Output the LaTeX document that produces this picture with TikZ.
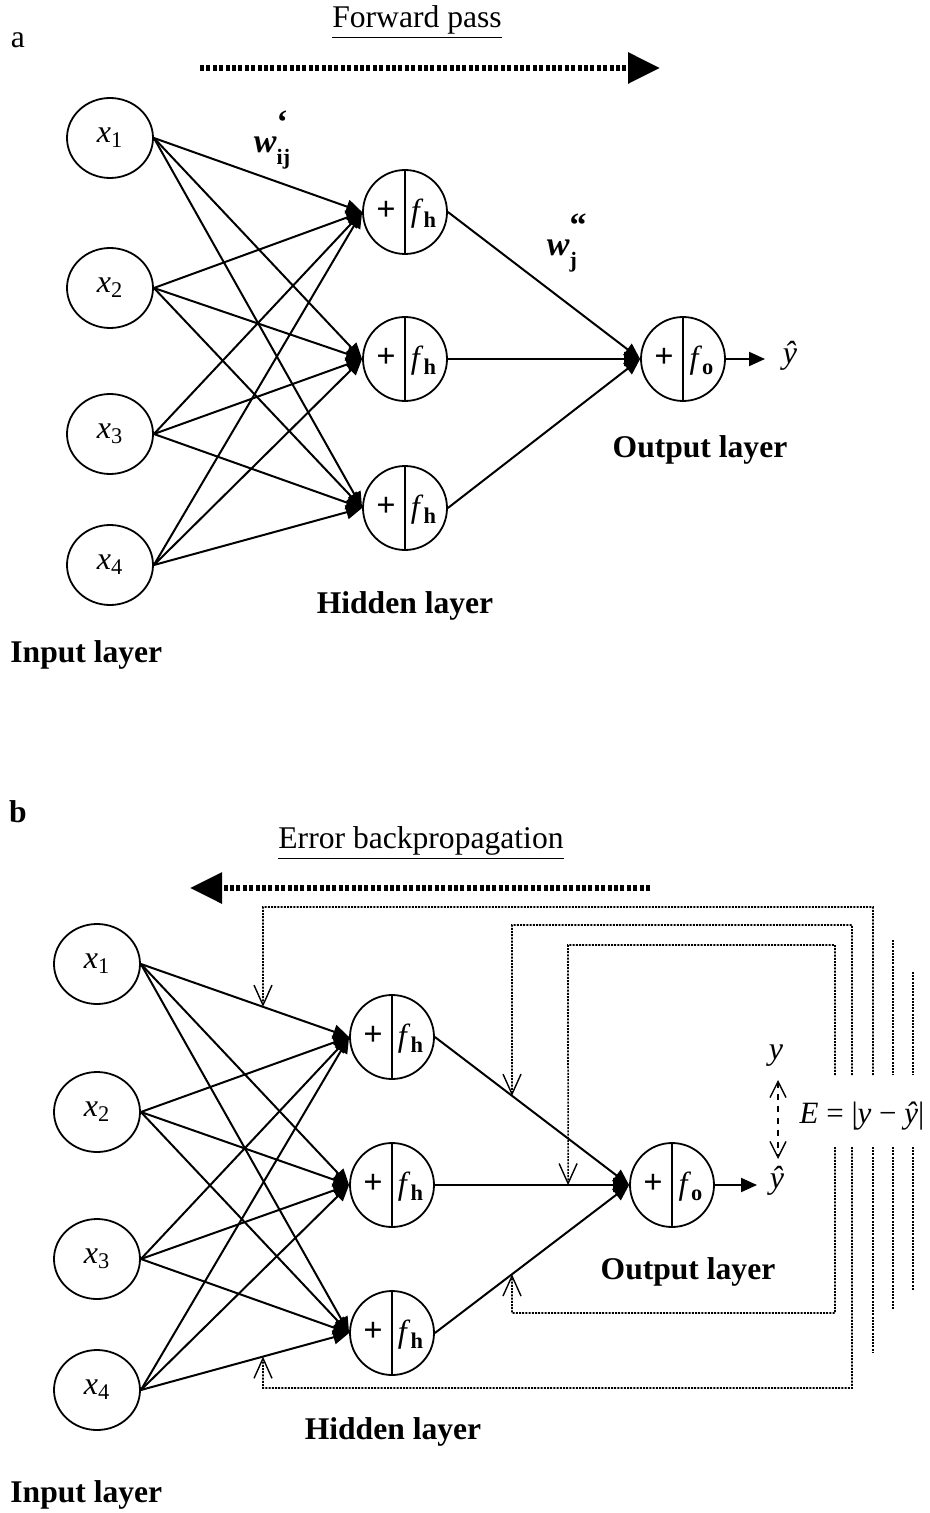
\documentclass[tikz,border=0pt]{standalone}
\usepackage{fontspec}
\setmainfont{Liberation Serif}
\usetikzlibrary{arrows.meta,shapes.geometric,calc}
\newcommand\nx[1]{\textit{x}\textsubscript{#1}}
\newcommand\neuron[4]{%
  \node[hid] (#1) at (#2,#3) {};
  \draw[line width=0.9pt] (#1.north) -- (#1.south);
  \node[font=\fontsize{17}{17}\selectfont\bfseries] (#1p) at ($(#1.center)+(-19,-1)$) {+};
  \node[font=\fontsize{16}{16}\selectfont] (#1f) at ($(#1.center)+(19,2)$) {\textit{f}\textsubscript{\bfseries #4}};
}
\begin{document}
\begin{tikzpicture}[x=0.5pt,y=-0.5pt,
  inp/.style={ellipse, draw, line width=0.9pt, minimum width=43pt, minimum height=40pt, inner sep=0pt, font=\fontsize{16}{16}\selectfont},
  hid/.style={circle, draw, line width=0.9pt, minimum size=42pt, inner sep=0pt},
  lbl/.style={font=\fontsize{15.8}{18}\selectfont\bfseries, inner sep=0pt},
  ttl/.style={font=\fontsize{15.8}{18}\selectfont, inner sep=0pt},
  edge/.style={line width=1pt, -{Triangle[length=8pt,width=7pt]}},
  bigdot/.style={line width=3pt, dash pattern=on 2pt off 1.2pt, -{Triangle[length=16pt,width=15pt]}},
  fb/.style={line width=0.8pt, black, dash pattern=on 1pt off 0.6pt},
  barb/.style={-{Straight Barb[length=10pt,width=9pt,line width=0.7pt]}},
  dbarb/.style={{Straight Barb[length=8pt,width=8pt,line width=0.7pt]}-{Straight Barb[length=8pt,width=8pt,line width=0.7pt]}}
]
\useasboundingbox (0,0) rectangle (930,1513);

% ================= Panel a =================
\node[ttl] (alab) at (18,40) {a};
\node[ttl] (fwd) at (417,22) {\underline{Forward pass}};
\coordinate (fwdS) at (200,68);
\coordinate (fwdE) at (660,68);
\draw[bigdot] (fwdS) -- (fwdE);

\node[inp] (a1) at (110,138) {\nx{1}};
\node[inp] (a2) at (110,288) {\nx{2}};
\node[inp] (a3) at (110,434) {\nx{3}};
\node[inp] (a4) at (110,565) {\nx{4}};

\neuron{ah1}{405}{212}{h}
\neuron{ah2}{405}{359}{h}
\neuron{ah3}{405}{508}{h}
\neuron{ao}{683}{359}{o}

\foreach \i in {1,...,4}
  \foreach \j in {1,2,3}
    \draw[edge] (a\i.east) -- (ah\j.west);
\foreach \j in {1,2,3}
  \draw[edge] (ah\j.east) -- (ao.west);

\coordinate (aout) at (765,359);
\draw[edge] (ao.east) -- (aout);
\node[font=\fontsize{16}{16}\selectfont] (ayhat) at (790,356) {\textit{ŷ}};

\node[font=\fontsize{17}{17}\selectfont] (aw1) at (272,140)
  {\textbf{\textit{w}}\rlap{\raisebox{0.55em}{\bfseries ‘}}\raisebox{-0.35em}{\fontsize{11}{11}\selectfont\bfseries ij}};
\node[font=\fontsize{17}{17}\selectfont] (aw2) at (562,243)
  {\textbf{\textit{w}}\rlap{\raisebox{0.55em}{\bfseries “}}\raisebox{-0.35em}{\fontsize{11}{11}\selectfont\bfseries j}};

\node[lbl] (aout lbl) at (700,450) {Output layer};
\node[lbl] (ahid lbl) at (405,606) {Hidden layer};
\node[lbl, anchor=west] (ainp lbl) at (10,655) {Input layer};

% ================= Panel b =================
\node[ttl, font=\fontsize{15.8}{18}\selectfont\bfseries] (blab) at (18,812) {b};
\node[ttl] (bwd) at (421,843) {\underline{Error backpropagation}};
\coordinate (bwdS) at (650,888);
\coordinate (bwdE) at (190,888);
\draw[bigdot] (bwdS) -- (bwdE);

\node[inp] (b1) at (97,964) {\nx{1}};
\node[inp] (b2) at (97,1112) {\nx{2}};
\node[inp] (b3) at (97,1259) {\nx{3}};
\node[inp] (b4) at (97,1390) {\nx{4}};

\neuron{bh1}{392}{1037}{h}
\neuron{bh2}{392}{1185}{h}
\neuron{bh3}{392}{1333}{h}
\neuron{bo}{672}{1185}{o}

\foreach \i in {1,...,4}
  \foreach \j in {1,2,3}
    \draw[edge] (b\i.east) -- (bh\j.west);
\foreach \j in {1,2,3}
  \draw[edge] (bh\j.east) -- (bo.west);

\coordinate (bout) at (757,1185);
\draw[edge] (bo.east) -- (bout);
\node[font=\fontsize{16}{16}\selectfont] (byhat) at (777,1181) {\textit{ŷ}};
\node[font=\fontsize{16}{16}\selectfont] (by) at (776,1056) {\textit{y}};
\coordinate (dA) at (778,1080);
\coordinate (dB) at (778,1159);
\draw[line width=0.7pt, dashed, dbarb] (dA) -- (dB);
\node[font=\fontsize{15.5}{15.5}\selectfont] (err) at (862,1116) {\textit{E} = |\textit{y} − \textit{ŷ}|};

\node[lbl] (bout lbl) at (688,1272) {Output layer};
\node[lbl] (bhid lbl) at (393,1432) {Hidden layer};
\node[lbl, anchor=west] (binp lbl) at (10,1495) {Input layer};

% feedback (error) lines
\coordinate (c1a) at (263,900);  \coordinate (c1b) at (263,1420);
\coordinate (c2a) at (512,900);  \coordinate (c2b) at (512,1420);
\coordinate (c3a) at (568,900);  \coordinate (c3b) at (568,1420);
\coordinate (t1) at (intersection of b1.east--bh1.west and c1a--c1b);
\coordinate (t2) at (intersection of bh1.east--bo.west and c2a--c2b);
\coordinate (t3) at (intersection of bh2.east--bo.west and c3a--c3b);
\coordinate (t4) at (intersection of bh3.east--bo.west and c2a--c2b);
\coordinate (t5) at (intersection of b4.east--bh3.west and c1a--c1b);

\draw[fb, barb] (873,1075) -- (873,907) -- (263,907) -- (t1);
\draw[fb] (873,1147) -- (873,1352);
\draw[fb, barb] (852,1075) -- (852,925) -- (512,925) -- (t2);
\draw[fb, barb] (852,1147) -- (852,1388) -- (263,1388) -- (t5);
\draw[fb, barb] (835,1075) -- (835,945) -- (568,945) -- (t3);
\draw[fb, barb] (835,1147) -- (835,1313) -- (512,1313) -- (t4);
\draw[fb] (893,940) -- (893,1075);
\draw[fb] (893,1147) -- (893,1310);
\draw[fb] (913,972) -- (913,1075);
\draw[fb] (913,1147) -- (913,1290);
\end{tikzpicture}
\end{document}
